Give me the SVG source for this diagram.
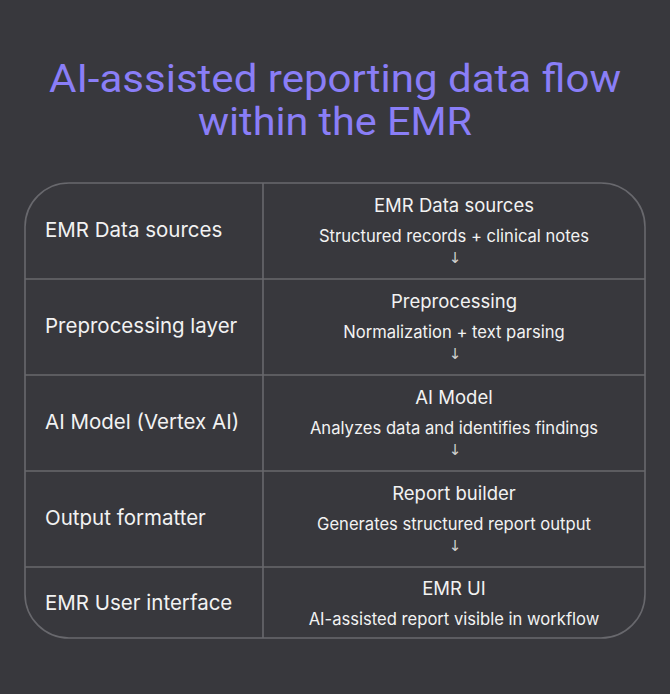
<svg xmlns="http://www.w3.org/2000/svg" width="670" height="694" viewBox="0 0 670 694">
<style>
.title{font-family:Roboto,"Noto Sans",sans-serif;font-weight:400;font-size:38px;fill:#8a7ef7;text-anchor:middle}
.lbl{font-family:Inter,"Noto Sans",sans-serif;font-size:20.5px;fill:#f2f2f2}
.hd{font-family:Inter,"Noto Sans",sans-serif;font-size:18.5px;fill:#f2f2f2;text-anchor:middle}
.sub{font-family:Inter,"Noto Sans",sans-serif;font-size:16.6px;fill:#f2f2f2;text-anchor:middle}
.arr{font-family:"DejaVu Sans",sans-serif;font-size:15px;fill:#d0d0d0;text-anchor:middle}
.ln{stroke:#68686d;stroke-width:1.6;fill:none}
</style>
<rect width="670" height="694" fill="#38383d"/>
<g id="title">
<text class="title" x="335" y="92" textLength="572" lengthAdjust="spacingAndGlyphs">AI-assisted reporting data flow</text>
<text class="title" x="335" y="135" textLength="274" lengthAdjust="spacingAndGlyphs">within the EMR</text>
</g>
<g id="table-grid">
<rect class="ln" x="25" y="183" width="620" height="455" rx="44" ry="44"/>
<line class="ln" x1="263" y1="183" x2="263" y2="638"/>
<line class="ln" x1="25" y1="279" x2="645" y2="279"/>
<line class="ln" x1="25" y1="375" x2="645" y2="375"/>
<line class="ln" x1="25" y1="471" x2="645" y2="471"/>
<line class="ln" x1="25" y1="567" x2="645" y2="567"/>
</g>
<g id="row1">
<text class="lbl" x="45" y="237">EMR Data sources</text>
<text class="hd" x="454" y="212">EMR Data sources</text>
<text class="sub" x="454" y="242">Structured records + clinical notes</text>
</g>
<g id="row2">
<text class="lbl" x="45" y="333">Preprocessing layer</text>
<text class="hd" x="454" y="308">Preprocessing</text>
<text class="sub" x="454" y="338">Normalization + text parsing</text>
</g>
<g id="row3">
<text class="lbl" x="45" y="429">AI Model (Vertex AI)</text>
<text class="hd" x="454" y="404">AI Model</text>
<text class="sub" x="454" y="434">Analyzes data and identifies findings</text>
</g>
<g id="row4">
<text class="lbl" x="45" y="525">Output formatter</text>
<text class="hd" x="454" y="500">Report builder</text>
<text class="sub" x="454" y="530">Generates structured report output</text>
</g>
<g id="row5">
<text class="lbl" x="45" y="610">EMR User interface</text>
<text class="hd" x="454" y="595">EMR UI</text>
<text class="sub" x="454" y="625">AI-assisted report visible in workflow</text>
</g>
<g id="connectors">
<text class="arr" x="455" y="263">↓</text>
<text class="arr" x="455" y="359">↓</text>
<text class="arr" x="455" y="455">↓</text>
<text class="arr" x="455" y="551">↓</text>
</g>
</svg>
